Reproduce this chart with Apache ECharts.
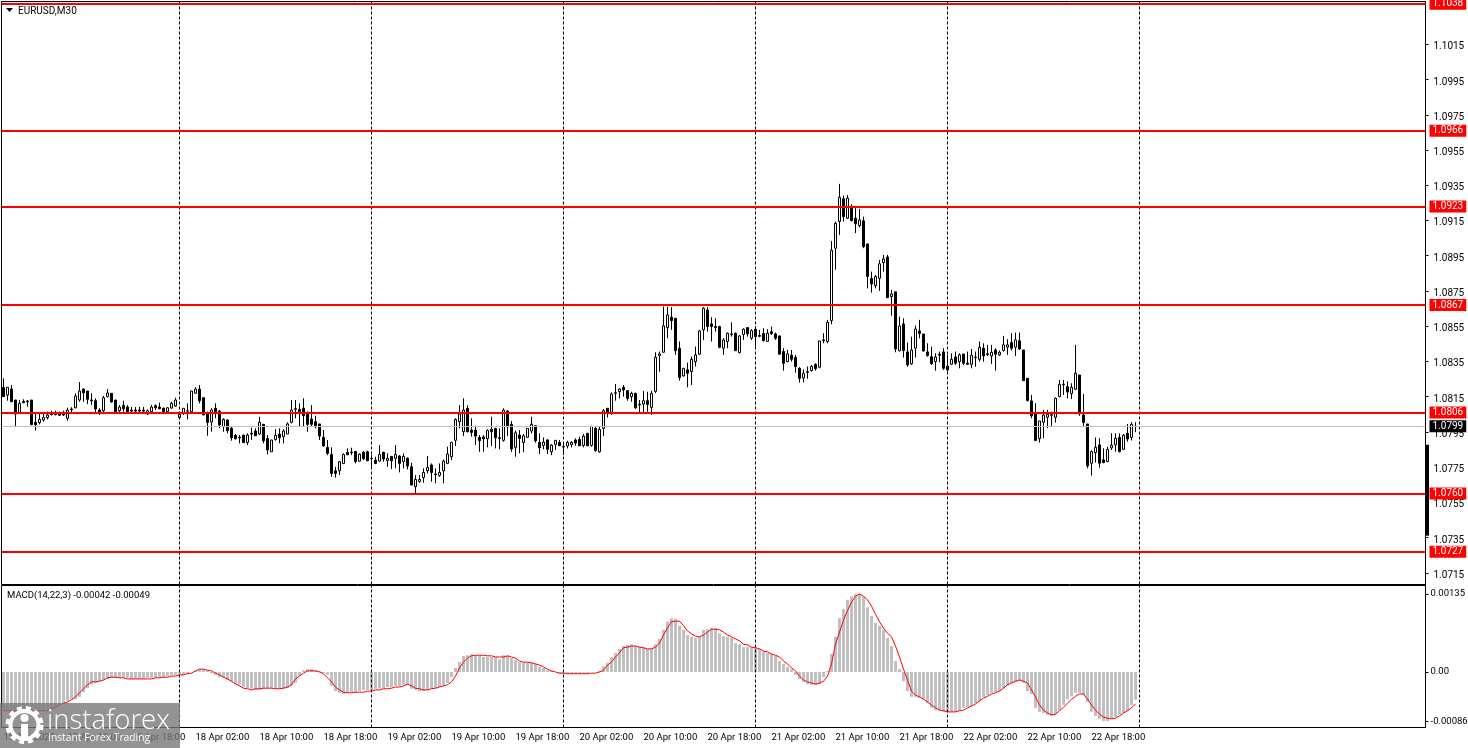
<!DOCTYPE html>
<html>
<head>
<meta charset="utf-8">
<style>html,body{margin:0;padding:0;background:#fff}#chart{width:1468px;height:748px}</style>
<script src="https://cdn.jsdelivr.net/npm/echarts@6/dist/echarts.min.js"></script>
</head>
<body>
<div id="chart"></div>
<script>
// prices are written as points above 1.00000, so 8203 means 1.08203
var opens = [8203,8159,8193,8131,8059,8123,8125,8131,8004,8002,
8017,8031,8055,8053,8051,8051,8027,8076,8087,8131,
8193,8182,8131,8127,8074,8070,8150,8169,8131,8070,
8100,8091,8074,8074,8074,8074,8051,8065,8099,8091,
8084,8065,8085,8097,8031,8059,8068,8065,8169,8193,
8144,8055,8006,8084,8068,7979,8017,7970,7930,7921,
7932,7890,7942,7955,7938,7993,7913,7837,7907,7938,
7923,7938,8004,8078,8078,8084,8061,8023,8008,7995,
7919,7862,7822,7729,7729,7771,7834,7835,7839,7784,
7834,7837,7800,7790,7784,7834,7788,7811,7800,7813,
7781,7800,7752,7639,7669,7690,7729,7762,7711,7703,
7729,7771,7809,7902,8008,7951,8084,7960,7960,7919,
7921,7911,7964,7970,7917,7902,8068,7993,7862,7932,
7890,7919,7955,7985,7890,7873,7904,7837,7879,7890,
7866,7870,7877,7904,7907,7873,7942,7873,7970,7837,
7970,8084,8061,8169,8178,8203,8184,8150,8169,8106,
8108,8127,8089,8180,8383,8402,8542,8601,8595,8425,
8268,8302,8292,8349,8391,8529,8642,8563,8548,8548,
8425,8463,8502,8510,8400,8502,8542,8482,8533,8497,
8508,8464,8519,8506,8495,8406,8349,8385,8372,8311,
8256,8288,8298,8334,8317,8468,8463,8582,8993,9144,
9273,9163,9229,9163,9121,9148,9017,8822,8781,8822,
8911,8943,8718,8745,8411,8563,8404,8336,8425,8523,
8506,8404,8377,8349,8390,8404,8302,8334,8375,8349,
8392,8340,8334,8375,8362,8425,8393,8381,8415,8387,
8412,8431,8457,8431,8467,8415,8254,8126,8052,7912,
8005,8033,8044,8033,8150,8217,8207,8167,8192,8273,
8046,7995,7772,7832,7876,7791,7781,7859,7876,7919,
7851,7942,7918,7980]
var highs = [8254,8203,8216,8131,8131,8135,8131,8131,8055,8055,
8055,8065,8070,8070,8065,8070,8087,8090,8169,8233,
8197,8182,8169,8140,8084,8154,8193,8169,8131,8102,
8127,8102,8091,8091,8093,8091,8078,8102,8106,8116,
8089,8089,8121,8144,8065,8084,8112,8184,8203,8216,
8144,8065,8084,8112,8074,8027,8021,7979,7938,7932,
7932,7942,7974,7970,8036,7995,7932,7904,7966,7970,
7966,8004,8131,8131,8112,8140,8065,8102,8042,7995,
7960,7904,7862,7752,7784,7828,7856,7860,7841,7828,
7841,7843,7818,7809,7875,7837,7828,7813,7875,7818,
7828,7805,7775,7705,7705,7743,7813,7771,7743,7771,
7794,7866,7894,8027,8102,8140,8102,8027,7985,7932,
7932,7964,8036,7970,7970,8084,8074,8012,7957,7960,
7938,7970,8036,7985,7942,7919,7909,7881,7904,7904,
7885,7900,7898,7913,7923,7938,7945,7985,7979,7979,
8080,8084,8174,8222,8197,8216,8188,8178,8172,8131,
8182,8178,8184,8402,8406,8661,8661,8658,8595,8463,
8311,8343,8377,8434,8529,8658,8658,8601,8595,8552,
8482,8514,8572,8514,8500,8538,8544,8533,8550,8529,
8538,8533,8548,8514,8495,8425,8415,8415,8387,8317,
8305,8321,8330,8339,8468,8510,8586,9034,9144,9358,
9292,9295,9242,9220,9216,9172,9017,8860,8841,8926,
8955,8955,8756,8745,8604,8595,8457,8491,8553,8586,
8506,8453,8434,8396,8406,8425,8387,8396,8406,8396,
8392,8406,8421,8406,8463,8453,8444,8444,8425,8412,
8495,8476,8510,8514,8514,8415,8254,8160,8113,8012,
8075,8075,8065,8145,8245,8245,8236,8226,8444,8273,
8166,7995,7844,7918,7914,7857,7866,7942,7942,7942,
7938,7995,8005,8005]
var lows = [8150,8127,8121,7979,8059,8112,8093,7991,7957,7993,
8008,8021,8044,8044,8040,8040,8013,8059,8084,8121,
8121,8108,8102,8059,8046,8050,8146,8116,8065,8061,
8065,8059,8055,8055,8055,8055,8046,8055,8074,8078,
8050,8059,8082,8093,8021,8046,8021,8055,8169,8112,
8046,7928,7951,8027,7970,7951,7942,7900,7907,7885,
7889,7875,7904,7928,7932,7885,7822,7837,7900,7885,
7885,7938,7998,8027,7979,7979,7951,7979,7970,7904,
7866,7818,7695,7690,7705,7767,7818,7818,7771,7781,
7790,7784,7752,7767,7781,7781,7752,7739,7743,7720,
7743,7737,7648,7601,7661,7661,7714,7667,7658,7695,
7658,7767,7790,7870,7970,7926,7947,7923,7875,7837,
7837,7862,7870,7856,7851,7894,7926,7837,7809,7828,
7834,7919,7942,7889,7824,7851,7824,7818,7847,7870,
7818,7856,7862,7871,7870,7862,7871,7866,7837,7832,
7926,8032,8046,8127,8140,8150,8127,8121,8080,8059,
8055,8065,8046,8170,8292,8400,8482,8529,8387,8241,
8264,8203,8216,8321,8387,8472,8519,8463,8519,8425,
8387,8425,8491,8410,8396,8472,8491,8472,8434,8487,
8463,8463,8500,8472,8387,8298,8345,8349,8286,8230,
8230,8252,8292,8298,8311,8453,8453,8561,8870,9068,
9144,9159,9144,9078,9110,8993,8765,8741,8765,8750,
8860,8709,8610,8402,8406,8372,8320,8330,8372,8481,
8406,8377,8330,8298,8345,8302,8292,8330,8330,8311,
8330,8330,8311,8320,8349,8349,8381,8336,8298,8381,
8406,8387,8412,8381,8415,8241,8122,8027,7901,7889,
7914,7971,7980,8003,8147,8160,8141,8137,8188,8041,
7980,7743,7702,7776,7747,7772,7778,7847,7838,7834,
7847,7895,7901,7948]
var closes = [8150,8203,8121,8051,8112,8116,8121,7991,7991,8021,
8032,8046,8048,8048,8044,8046,8074,8080,8154,8182,
8172,8135,8127,8080,8061,8144,8171,8120,8065,8091,
8082,8065,8068,8068,8068,8068,8070,8091,8087,8082,
8065,8087,8112,8131,8049,8084,8070,8182,8193,8127,
8046,8004,8074,8065,7989,8021,7957,7917,7911,7917,
7889,7932,7938,7928,8004,7900,7847,7904,7930,7917,
7955,7995,8074,8082,8065,8042,7993,7993,7979,7926,
7870,7828,7714,7714,7781,7822,7820,7832,7781,7824,
7798,7786,7798,7771,7822,7796,7800,7786,7822,7771,
7811,7756,7648,7680,7680,7720,7748,7720,7707,7720,
7784,7824,7890,8021,8051,8074,7951,7947,7926,7900,
7911,7959,7951,7917,7913,8074,7979,7853,7945,7913,
7928,7970,7993,7900,7860,7892,7851,7875,7902,7871,
7864,7890,7890,7887,7871,7926,7871,7981,7845,7964,
8070,8061,8165,8172,8193,8188,8140,8169,8087,8102,
8127,8106,8169,8374,8393,8552,8614,8582,8411,8258,
8311,8283,8362,8387,8523,8652,8548,8548,8542,8430,
8472,8510,8506,8411,8495,8533,8506,8525,8491,8493,
8468,8510,8508,8482,8391,8339,8393,8362,8321,8254,
8283,8292,8322,8309,8466,8472,8572,8981,9134,9282,
9172,9277,9150,9131,9153,9002,8832,8790,8832,8904,
8932,8712,8733,8421,8551,8411,8330,8415,8534,8508,
8409,8383,8338,8375,8385,8311,8324,8362,8340,8387,
8340,8334,8385,8372,8430,8381,8389,8402,8391,8402,
8444,8444,8425,8472,8421,8241,8128,8041,7901,8012,
8046,8050,8048,8141,8220,8220,8177,8203,8283,8052,
8003,7757,7838,7863,7772,7776,7851,7874,7914,7838,
7931,7910,7993,7982]

// macd values are written in 0.00001 units
var macdHist = [-66,-66,-67,-69,-69,-69,-69,-69,-69,-69,
-67,-67,-64,-61,-57,-54,-50,-47,-47,-43,
-35,-28,-22,-19,-16,-14,-12,-10,-10,-10,
-10,-10,-12,-12,-12,-12,-10,-10,-10,-10,
-9,-7,-5,-5,-5,-5,-3,0,2,5,
5,3,-2,-5,-9,-10,-14,-17,-21,-22,
-26,-28,-29,-31,-31,-29,-28,-28,-29,-29,
-29,-28,-24,-19,-7,3,5,5,3,2,
-2,-5,-24,-33,-36,-38,-36,-35,-35,-33,
-31,-31,-31,-29,-28,-28,-26,-26,-24,-24,
-22,-22,-29,-31,-33,-33,-31,-29,-28,-26,
-24,-19,-9,7,17,28,29,31,28,28,
26,26,26,26,22,29,28,24,21,17,
16,16,16,14,9,7,3,2,0,-2,
-2,-3,-3,-3,-3,-3,-3,0,0,2,
10,16,26,33,40,45,47,48,45,43,
42,40,40,48,57,73,87,93,92,80,
73,64,61,59,61,73,74,76,76,67,
62,61,59,50,48,43,43,43,42,40,
35,33,31,28,19,14,9,5,-5,-12,
-17,-21,-22,-22,-21,-9,2,31,61,93,
109,125,131,135,135,130,112,97,85,80,
73,59,45,19,5,-16,-33,-43,-43,-45,
-47,-54,-62,-66,-67,-69,-69,-69,-69,-67,
-62,-61,-59,-54,-50,-43,-40,-36,-35,-33,
-28,-24,-19,-17,-14,-19,-33,-38,-62,-69,
-71,-74,-76,-73,-66,-57,-47,-42,-36,-36,
-40,-52,-69,-76,-81,-85,-85,-81,-78,-74,
-71,-67,-57,-48]
var macdSignal = [-67,-67,-67,-67,-67,-67,-67,-67,-67,-67,
-67,-67,-64,-61,-57,-54,-52,-48,-43,-36,
-29,-22,-17,-17,-16,-14,-10,-9,-9,-10,
-10,-12,-12,-12,-12,-12,-12,-12,-10,-10,
-9,-9,-7,-7,-5,-5,-3,-2,2,5,
5,3,2,-2,-5,-9,-12,-16,-21,-24,
-28,-29,-31,-29,-29,-28,-28,-28,-29,-29,
-28,-26,-22,-12,-7,-2,2,2,2,0,
-3,-10,-17,-26,-31,-35,-36,-36,-35,-35,
-35,-33,-33,-31,-31,-29,-29,-28,-26,-26,
-24,-21,-24,-28,-29,-31,-31,-29,-28,-26,
-24,-22,-17,-7,7,17,24,28,29,29,
29,28,28,26,26,26,28,26,24,19,
17,17,16,14,12,9,5,2,0,-2,
-2,-3,-3,-3,-3,-3,-3,-2,-2,0,
3,12,17,26,33,42,43,45,45,43,
42,40,40,43,50,64,76,87,88,88,
80,71,66,62,61,64,69,74,74,73,
69,64,61,57,54,48,47,43,42,40,
36,35,31,29,26,19,14,7,2,-7,
-14,-17,-19,-21,-19,-16,-7,14,48,69,
90,106,121,131,135,131,125,114,100,87,
76,67,61,45,26,5,-14,-33,-40,-43,
-47,-52,-57,-62,-66,-67,-69,-69,-69,-67,
-66,-62,-59,-55,-50,-45,-42,-38,-36,-33,
-28,-22,-19,-16,-14,-16,-19,-31,-43,-57,
-66,-71,-74,-73,-67,-61,-54,-47,-42,-38,
-38,-47,-57,-66,-73,-78,-80,-81,-80,-76,
-71,-67,-62,-55]

var levelPrices = [1.1038, 1.0966, 1.0923, 1.0867, 1.0806, 1.0760, 1.0727]
var currentPrice = 1.07982
var currentPriceText = '1.0799'
var spreadBar = [1.07877, 1.07361]
var separatorBars = [44, 92, 140, 188, 236, 284]
var priceTicks = [1.1015, 1.0995, 1.0975, 1.0955, 1.0935, 1.0915, 1.0895, 1.0875, 1.0855, 1.0835, 1.0815, 1.0795, 1.0775, 1.0755, 1.0735, 1.0715]
var macdTicks = [0.00135, 0, -0.00086]
var macdTickLabels = ['0.00135', '0.00', '-0.00086']

// 356 slots of 4px fill the window width, bars stop at 284
var slotCount = 356
var lastLabelBar = 272
var barTimes = []
var months = ' Apr '
for (var i = 0; i < slotCount; i++) {
    var mins = i < 44 ? 120 + i * 30 : (i - 44) * 30
    var day = i < 44 ? 15 : 18 + Math.floor(mins / 1440)
    var hh = Math.floor(mins / 60) % 24
    var mm = mins % 60
    barTimes.push(day + months + (hh < 10 ? '0' : '') + hh + ':' + (mm < 10 ? '0' : '') + mm)
}
barTimes[0] = '15 Apr 2022'

function toPrice(p) { return 1 + p / 100000 }
function toMacd(v) { return v / 100000 }
function showTick(index) { return index % 16 === 0 && index <= lastLabelBar }

var candles = opens.map(function (o, i) {
    return [toPrice(o), toPrice(closes[i]), toPrice(lows[i]), toPrice(highs[i])]
})

var axisFont = { fontFamily: 'Roboto', fontSize: 10, color: '#000' }
var redLabel = { show: true, position: 'end', distance: 4, color: '#fff', backgroundColor: '#ff0000', padding: [2, 3, 0, 3], fontFamily: 'Roboto', fontSize: 10 }

var priceLines = levelPrices.map(function (p) {
    return {
        yAxis: p,
        lineStyle: { color: '#ff0000', width: 2, type: 'solid' },
        label: Object.assign({}, redLabel, { formatter: p.toFixed(4) })
    }
})
priceLines.push({
    yAxis: currentPrice,
    lineStyle: { color: '#c0c0c0', width: 1, type: 'solid' },
    label: Object.assign({}, redLabel, { formatter: currentPriceText, backgroundColor: '#000' })
})
function separators() {
    return separatorBars.map(function (b) {
        return { xAxis: b, lineStyle: { color: '#000', width: 1, type: [3, 2] }, label: { show: false } }
    })
}

var myChart = echarts.init(document.getElementById('chart'))
var option = {
    animation: false,
    backgroundColor: '#fff',
    title: [
        { text: 'EURUSD,M30', left: 18, top: 6, padding: 0, textStyle: { fontFamily: 'Roboto', fontSize: 10, fontWeight: 'normal', color: '#000' } },
        { text: 'MACD(14,22,3) -0.00042 -0.00049', left: 7, top: 591, padding: 0, textStyle: { fontFamily: 'Roboto', fontSize: 9.5, fontWeight: 'normal', color: '#000' } }
    ],
    grid: [
        { left: 1.5, width: 1424, top: 1.5, height: 583, show: true, borderColor: '#000', borderWidth: 1, backgroundColor: '#fff', outerBoundsMode: 'none' },
        { left: 1.5, width: 1424, top: 585.5, height: 142, show: true, borderColor: '#000', borderWidth: 1, backgroundColor: '#fff', outerBoundsMode: 'none' }
    ],
    xAxis: [
        { type: 'category', gridIndex: 0, data: barTimes, boundaryGap: true, axisLine: { show: false }, axisTick: { show: false }, axisLabel: { show: false }, splitLine: { show: false } },
        {
            type: 'category', gridIndex: 1, data: barTimes, boundaryGap: true,
            axisLine: { onZero: false, lineStyle: { color: '#000' } },
            axisTick: { alignWithLabel: true, length: 3, interval: showTick, lineStyle: { color: '#000' } },
            axisLabel: Object.assign({ interval: showTick, align: 'left', margin: 5 }, axisFont, { fontSize: 9.5 }),
            splitLine: { show: false }
        }
    ],
    yAxis: [
        {
            type: 'value', gridIndex: 0, position: 'right', scale: true, min: 1.070836, max: 1.103932,
            axisLine: { show: true, lineStyle: { color: '#000' } },
            axisTick: { show: true, length: 3, customValues: priceTicks, lineStyle: { color: '#000' } },
            axisLabel: Object.assign({ margin: 8, verticalAlign: 'top', lineHeight: 5, customValues: priceTicks, formatter: function (v) { return v.toFixed(4) } }, axisFont),
            splitLine: { show: false }
        },
        {
            type: 'value', gridIndex: 1, position: 'right', min: -0.00096, max: 0.0014965,
            axisLine: { show: true, lineStyle: { color: '#000' } },
            axisTick: { show: true, length: 3, customValues: macdTicks, lineStyle: { color: '#000' } },
            axisLabel: Object.assign({
                margin: 5, customValues: macdTicks,
                formatter: function (v) { return macdTickLabels[macdTicks.indexOf(v)] }
            }, axisFont, { fontSize: 9.5 }),
            splitLine: { show: false }
        }
    ],
    series: [
        {
            name: 'EURUSD', type: 'candlestick', xAxisIndex: 0, yAxisIndex: 0, data: candles, barWidth: 3,
            itemStyle: { color: '#fff', color0: '#000', borderColor: '#000', borderColor0: '#000', borderWidth: 1 },
            markLine: { silent: true, symbol: 'none', animation: false, precision: 5, data: separators().concat(priceLines) }
        },
        {
            name: 'spread', type: 'custom', xAxisIndex: 0, yAxisIndex: 0, clip: false,
            data: [[slotCount - 1, spreadBar[0], spreadBar[1]]],
            renderItem: function (params, api) {
                var top = api.coord([api.value(0), api.value(1)])
                var bottom = api.coord([api.value(0), api.value(2)])
                return { type: 'rect', shape: { x: top[0] + 2.5, y: top[1], width: 3, height: bottom[1] - top[1] }, style: { fill: '#000' } }
            }
        },
        {
            name: 'MACD', type: 'bar', xAxisIndex: 1, yAxisIndex: 1, barWidth: 3,
            data: macdHist.map(toMacd), itemStyle: { color: '#c0c0c0' },
            markLine: { silent: true, symbol: 'none', animation: false, data: separators() }
        },
        {
            name: 'Signal', type: 'line', xAxisIndex: 1, yAxisIndex: 1, showSymbol: false, symbol: 'none',
            data: macdSignal.map(toMacd), lineStyle: { color: '#ff0000', width: 1 }, z: 5
        }
    ],
    graphic: [
        // collapse triangle in front of the symbol name
        { type: 'polygon', z: 50, shape: { points: [[6, 8], [13, 8], [9.5, 12]] }, style: { fill: '#000' } },
        // watermark
        { type: 'rect', z: 100, shape: { x: 0, y: 703, width: 180, height: 45 }, style: { fill: 'rgba(120,120,120,0.8)' } },
        { type: 'circle', z: 101, shape: { cx: 24.5, cy: 725, r: 14 }, style: { fill: 'none', stroke: '#fff', lineWidth: 4 } },
        { type: 'circle', z: 101, shape: { cx: 24.5, cy: 725, r: 17 }, style: { fill: 'none', stroke: '#fff', lineWidth: 4, lineDash: [5, 4] } },
        { type: 'circle', z: 101, shape: { cx: 24.5, cy: 718, r: 4 }, style: { fill: '#fff' } },
        { type: 'rect', z: 101, shape: { x: 21, y: 724, width: 7, height: 15 }, style: { fill: '#fff' } },
        { type: 'text', z: 101, x: 47, y: 707, style: { text: 'instaforex', fill: '#fff', fontFamily: 'Open Sans', fontSize: 27.5, fontWeight: 300 } },
        { type: 'text', z: 101, x: 48, y: 733, style: { text: 'Instant Forex Trading', fill: '#fff', fontFamily: 'Open Sans', fontSize: 10.3 } }
    ]
}
myChart.setOption(option)
</script>
</body>
</html>
